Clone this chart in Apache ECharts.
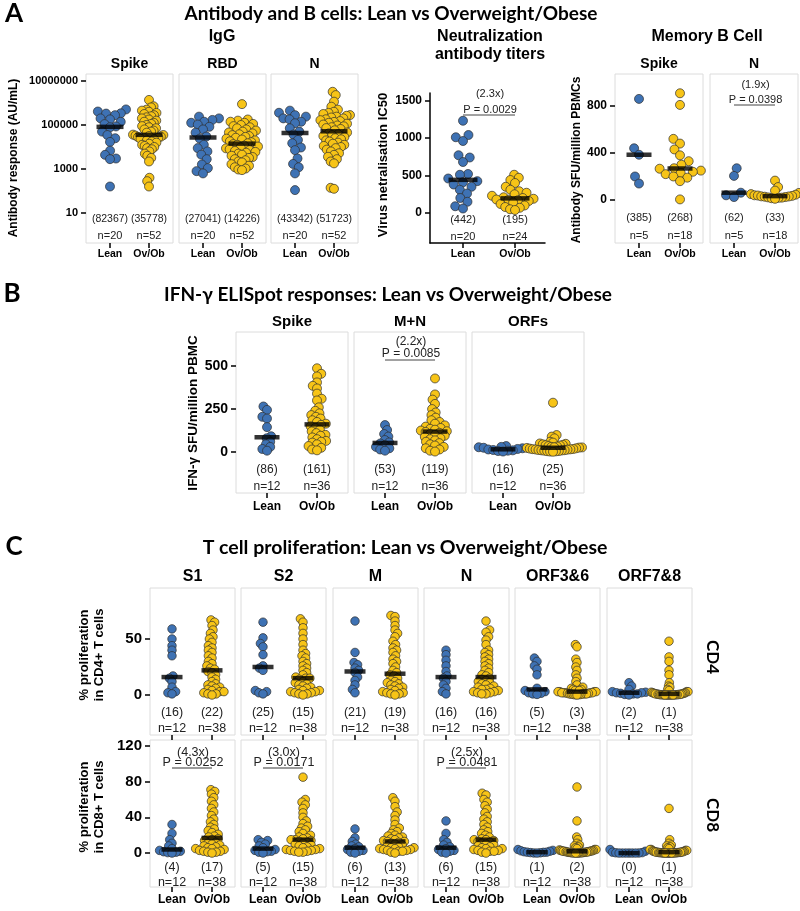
<!DOCTYPE html>
<html>
<head>
<meta charset="utf-8">
<script src="https://cdn.jsdelivr.net/npm/echarts@6/dist/echarts.min.js"></script>
<style>
  html, body { margin: 0; background: #fff; }
  #chart { width: 800px; height: 911px; }
</style>
</head>
<body>
<div id="chart"></div>
<script>
// ---------- data ----------
const groupNames = ['Lean', 'Ov/Ob'];

// A: IgG, AU/mL
const iggFacets = ['Spike', 'RBD', 'N'];
const iggTicks = [10, 1000, 100000, 10000000];
const iggSpikeLean = [510000, 410000, 340000, 330000, 280000, 200000, 180000, 140000, 110000, 86000, 79000, 50000, 35000, 25000, 17000, 6800, 4400, 3000, 2800, 160];
const iggSpikeOv = [1380000, 710000, 630000, 500000, 450000, 400000, 355000, 316000, 280000, 250000, 224000, 200000, 178000, 158000, 141000, 126000, 112000, 100000, 89000, 79000, 71000, 63000, 56000, 50000, 45000, 36500, 35000, 33000, 31600, 29500, 28200, 26300, 25100, 23400, 22400, 20000, 17800, 15800, 14100, 12600, 11200, 10000, 8900, 7900, 6300, 5000, 4000, 3200, 2200, 400, 280, 160];
const iggRbdLean = [240000, 200000, 170000, 141000, 126000, 105000, 83000, 63000, 45000, 30000, 24000, 12600, 8900, 6300, 4500, 2800, 1600, 1100, 800, 630];
const iggRbdOv = [890000, 178000, 158000, 141000, 126000, 112000, 100000, 89000, 79000, 71000, 63000, 56000, 50000, 45700, 41700, 38000, 34700, 31600, 28800, 26300, 24000, 21900, 20000, 18200, 16600, 14800, 13500, 12600, 11500, 10500, 9500, 8700, 7900, 7200, 6600, 6000, 5500, 5000, 4500, 4000, 3500, 3200, 2800, 2500, 2200, 2000, 1660, 1410, 1200, 1050, 950, 890];
const iggNLean = [450000, 360000, 280000, 240000, 200000, 180000, 141000, 120000, 71000, 50000, 37000, 21000, 14800, 9500, 7200, 3000, 1700, 1200, 630, 110];
const iggNOv = [3240000, 2290000, 1150000, 680000, 500000, 400000, 355000, 316000, 282000, 263000, 240000, 219000, 200000, 182000, 166000, 151000, 138000, 126000, 115000, 105000, 95500, 87000, 79400, 72400, 66000, 57500, 45700, 41700, 38000, 34700, 31600, 28200, 25100, 22400, 20000, 17800, 15800, 14100, 12600, 11200, 10000, 8900, 7600, 6300, 5200, 4400, 3600, 2800, 2200, 1800, 140, 126];
const iggMedians = [[82367, 35778], [27041, 14226], [43342, 51723]];

// A: neutralisation IC50
const neutTicks = [0, 500, 1000, 1500];
const neutLean = [1230, 1040, 1010, 960, 770, 740, 680, 520, 510, 460, 425, 410, 380, 350, 310, 260, 200, 150, 90, 60];
const neutOv = [510, 470, 440, 400, 350, 310, 290, 270, 250, 230, 210, 200, 190, 180, 175, 170, 160, 140, 120, 100, 80, 70, 50, 40];
const neutMedians = [442, 195];

// A: memory B cells
const memFacets = ['Spike', 'N'];
const memTicks = [0, 400, 800];
const memSpikeLean = [860, 440, 385, 200, 140];
const memSpikeOv = [908, 809, 520, 480, 430, 380, 330, 300, 270, 266, 250, 240, 230, 220, 200, 190, 160, 5];
const memNLean = [270, 205, 62, 40, 25];
const memNOv = [165, 110, 80, 60, 50, 45, 40, 38, 35, 31, 30, 28, 25, 22, 20, 18, 15, 10];
const memMedians = [[385, 268], [62, 33]];

// B: IFN-g ELISpot
const ifnFacets = ['Spike', 'M+N', 'ORFs'];
const ifnTicks = [0, 250, 500];
const ifnSpikeLean = [265, 245, 205, 195, 145, 92, 80, 60, 45, 30, 18, 8];
const ifnSpikeOv = [487, 455, 440, 405, 385, 370, 340, 310, 300, 260, 240, 225, 215, 205, 195, 185, 175, 165, 158, 150, 140, 130, 120, 110, 100, 95, 85, 75, 65, 60, 55, 45, 35, 25, 15, 10];
const ifnMNLean = [157, 128, 105, 90, 70, 56, 50, 40, 30, 22, 15, 8];
const ifnMNOv = [428, 335, 305, 280, 250, 230, 215, 200, 185, 175, 165, 155, 148, 140, 135, 130, 125, 121, 117, 112, 105, 100, 95, 88, 80, 75, 68, 60, 52, 45, 38, 30, 22, 15, 8, 3];
const ifnOrfLean = [35, 30, 28, 25, 22, 18, 15, 12, 10, 8, 6, 3];
const ifnOrfOv = [287, 99, 90, 80, 60, 55, 50, 48, 45, 42, 40, 38, 35, 32, 30, 28, 27, 26, 24, 22, 20, 18, 17, 16, 15, 14, 12, 11, 10, 9, 8, 6, 5, 4, 3, 2];
const ifnMedians = [[86, 161], [53, 119], [16, 25]];

// C: T cell proliferation (%)
const tcellFacets = ['S1', 'S2', 'M', 'N', 'ORF3&6', 'ORF7&8'];
const cd4Ticks = [0, 50];
const cd8Ticks = [0, 40, 80, 120];
const cd4S1Lean = [59, 50, 44, 40, 35, 17, 15, 12, 7, 3, 2, 1];
const cd4S1Ov = [67, 65, 62, 58, 55, 52, 50, 47, 44, 42, 40, 38, 35, 33, 30, 28, 26, 24, 23, 21, 20, 18, 16, 14, 12, 10, 9, 8, 7, 6, 5, 4, 3, 3, 2, 1, 1, 0];
const cd4S2Lean = [65, 51, 46, 43, 36, 26, 24, 22, 4, 3, 2, 1];
const cd4S2Ov = [68, 65, 60, 55, 50, 45, 40, 37, 35, 33, 30, 28, 26, 24, 22, 20, 18, 16, 15, 15, 14, 12, 11, 10, 9, 8, 7, 6, 5, 4, 4, 3, 3, 2, 2, 1, 1, 0];
const cd4MLean = [66, 38, 29, 27, 24, 22, 20, 16, 13, 9, 5, 2];
const cd4MOv = [71, 70, 66, 62, 58, 55, 52, 48, 45, 42, 40, 38, 35, 32, 30, 28, 25, 22, 20, 18, 17, 15, 13, 12, 11, 10, 9, 8, 7, 6, 5, 4, 3, 2, 2, 1, 1, 0];
const cd4NLean = [40, 36, 31, 26, 21, 17, 15, 12, 9, 6, 3, 1];
const cd4NOv = [66, 58, 56, 52, 49, 45, 40, 38, 36, 34, 32, 30, 28, 26, 24, 22, 20, 18, 17, 15, 14, 13, 12, 11, 10, 9, 8, 7, 6, 5, 5, 4, 3, 3, 2, 2, 1, 1];
const cd4Orf36Lean = [33, 30, 26, 23, 18, 6, 4, 3, 2, 1.5, 1, 0.5];
const cd4Orf36Ov = [45, 43, 32, 29, 25, 22, 18, 15, 12, 9, 7, 6, 5, 5, 4, 4, 4, 3, 3, 3, 3, 2, 2, 2, 2, 2, 1.5, 1.5, 1, 1, 1, 1, 0.8, 0.5, 0.5, 0.3, 0.2, 0];
const cd4Orf78Lean = [11, 8, 5, 3, 2.5, 2, 2, 1.5, 1, 1, 0.5, 0];
const cd4Orf78Ov = [48, 34, 30, 22, 18, 11, 8, 7, 5, 4, 3, 3, 2.5, 2, 2, 1.5, 1.5, 1.2, 1, 1, 0.8, 0.6, 0.5, 0.5, 0.4, 0.3, 0.3, 0.2, 0.2, 0.1, 0.1, 0, 0, 0, 0, 0, 0, 0];
const cd8S1Lean = [32, 22, 15, 11, 8, 5, 3, 2, 1.5, 1, 0.5, 0];
const cd8S1Ov = [71, 69, 66, 62, 58, 54, 50, 46, 42, 38, 35, 32, 29, 27, 25, 23, 21, 19, 18, 16, 15, 14, 12, 11, 10, 9, 8, 7, 6, 5, 5, 4, 3, 2, 2, 1, 1, 0];
const cd8S2Lean = [15, 14, 12, 10, 8, 6, 4, 3, 2, 1.5, 1, 0];
const cd8S2Ov = [85, 60, 57, 54, 50, 45, 40, 36, 33, 30, 28, 26, 24, 22, 20, 18, 17, 16, 15, 15, 14, 13, 12, 11, 10, 9, 8, 7, 6, 5, 4, 4, 3, 3, 2, 2, 1, 1];
const cd8MLean = [27, 17, 13, 10, 8, 7, 5, 4, 3, 2, 1, 0];
const cd8MOv = [62, 58, 52, 46, 42, 37, 32, 28, 26, 24, 22, 20, 19, 18, 17, 16, 15, 14, 13, 13, 12, 11, 10, 9, 8, 7, 6, 6, 5, 5, 4, 4, 3, 3, 2, 2, 1, 0];
const cd8NLean = [36, 22, 15, 12, 9, 7, 5, 4, 3, 2, 1, 0];
const cd8NOv = [67, 65, 60, 57, 53, 49, 45, 41, 38, 35, 32, 29, 26, 24, 22, 20, 18, 16, 15, 15, 14, 13, 12, 11, 10, 9, 8, 7, 6, 5, 5, 4, 3, 3, 2, 2, 1, 0];
const cd8Orf36Lean = [4, 3, 2.5, 2, 1.5, 1, 1, 0.8, 0.5, 0.3, 0.1, 0];
const cd8Orf36Ov = [74, 36, 18, 15, 11, 9, 8, 7, 6, 5, 4, 4, 3.5, 3, 3, 2.5, 2.5, 2.2, 2, 2, 1.8, 1.5, 1.5, 1.2, 1, 1, 0.8, 0.7, 0.6, 0.5, 0.4, 0.3, 0.3, 0.2, 0.1, 0.1, 0, 0];
const cd8Orf78Lean = [4, 2, 1, 0.5, 0.3, 0.1, 0, 0, 0, 0, 0, 0];
const cd8Orf78Ov = [50, 15, 11, 9, 8, 7, 6, 5, 4, 4, 3, 3, 2.5, 2, 2, 1.5, 1.5, 1.2, 1, 1, 0.8, 0.8, 0.6, 0.5, 0.5, 0.4, 0.3, 0.3, 0.2, 0.2, 0.1, 0.1, 0, 0, 0, 0, 0, 0];
const cd4Medians = [[16, 22], [25, 15], [21, 19], [16, 16], [5, 3], [2, 1]];
const cd8Medians = [[4, 17], [5, 15], [6, 13], [6, 15], [1, 2], [0, 1]];

// fold change / p value annotations
const statFolds = ['2.3x', '1.9x', '2.2x', '4.3x', '3.0x', '2.5x'];
const statPs = ['0.0029', '0.0398', '0.0085', '0.0252', '0.0171', '0.0481'];

// ---------- layout ----------
const SANS = "'Liberation Sans', Arial, sans-serif";
const HEAD = "Lato, 'Open Sans', sans-serif";
const LEAN_COLOR = '#3e72b4';
const OV_COLOR = '#f7c417';

const facets = [];
const graphics = [];

function text(x, y, str, size, o) {
  o = o || {};
  graphics.push({
    type: 'text', x: x, y: y, rotation: o.rot || 0, silent: true,
    style: {
      text: str, fill: o.color || '#000', fontSize: size,
      fontWeight: o.bold ? 'bold' : 'normal', fontFamily: o.family || SANS,
      align: 'center', verticalAlign: 'middle', lineHeight: o.lh
    }
  });
}

function facet(o) { facets.push(o); return o; }

// beeswarm: offsets points sideways so they don't overlap,
// then squeezes the group if it gets wider than maxW
function swarm(vals, toPx, d, maxW) {
  const pts = vals.map(v => ({ v: v, y: toPx(v), x: 0 }));
  const order = pts.slice().sort((a, b) => b.y - a.y);
  const done = [];
  let flip = false;
  order.forEach(p => {
    const bad = [];
    done.forEach(q => {
      const dy = Math.abs(p.y - q.y);
      if (dy < d) {
        const dx = Math.sqrt(d * d - dy * dy);
        bad.push([q.x - dx, q.x + dx]);
      }
    });
    const cands = [0];
    bad.forEach(b => cands.push(b[0], b[1]));
    cands.sort((a, b) => (Math.abs(a) - Math.abs(b)) || (flip ? a - b : b - a));
    p.x = cands.find(c => bad.every(b => c <= b[0] + 1e-6 || c >= b[1] - 1e-6));
    flip = !flip;
    done.push(p);
  });
  const m = Math.max.apply(null, pts.map(p => Math.abs(p.x)));
  if (m > maxW) pts.forEach(p => { p.x *= maxW / m; });
  return pts;
}

function yPix(f, v) {
  const t = f.log ? Math.log10 : (x => x);
  return f.top + f.height * (t(f.yMax) - t(v)) / (t(f.yMax) - t(f.yMin));
}

// Panel A - IgG
const iggSets = [[iggSpikeLean, iggSpikeOv], [iggRbdLean, iggRbdOv], [iggNLean, iggNOv]];
iggSets.forEach((vals, i) => facet({
  left: [86, 179, 271][i], top: 74, width: 87, height: 169,
  log: true, yMin: 0.433, yMax: 2.08e7, ticks: i ? null : iggTicks, tickFont: 11,
  vals: vals, med: iggMedians[i], offs: [24, 63], size: 9, barW: 27, gap: 0.85, spread: 16,
  medY: 219, nY: 236, medFont: 10.5, nFont: 11, xFont: 10.5, xMargin: 6,
  boxed: true, xLabels: true, label: iggFacets[i], labelY: 64, labelFont: 14
}));

// Panel A - neutralisation
const neutFacet = facet({
  left: 430, top: 93, width: 115, height: 150,
  yMin: -400, yMax: 1600, ticks: neutTicks, tickFont: 12,
  vals: [neutLean, neutOv], med: neutMedians, offs: [33, 85], size: 9, barW: 29, gap: 0.9, spread: 23,
  medY: 220, nY: 237, medFont: 11, nFont: 11, xFont: 10.5, xMargin: 6,
  lines: true, xLabels: true
});

// Panel A - memory B
const memSets = [[memSpikeLean, memSpikeOv], [memNLean, memNOv]];
const memF = memSets.map((vals, i) => facet({
  left: [615, 710][i], top: 74, width: 88, height: 169,
  yMin: -366, yMax: 1072, ticks: i ? null : memTicks, tickFont: 12,
  vals: vals, med: memMedians[i], offs: [24, 65], size: 9, barW: 25, gap: 0.9, spread: 24,
  medY: 218, nY: 236, medFont: 11, nFont: 11, xFont: 10.5, xMargin: 6,
  boxed: true, xLabels: true, label: memFacets[i], labelY: 64, labelFont: 14
}));

// Panel B
const ifnSets = [[ifnSpikeLean, ifnSpikeOv], [ifnMNLean, ifnMNOv], [ifnOrfLean, ifnOrfOv]];
const ifnF = ifnSets.map((vals, i) => facet({
  left: [236, 354, 472][i], top: 332, width: 112, height: 161,
  yMin: -238, yMax: 698, ticks: i ? null : ifnTicks, tickFont: 14,
  vals: vals, med: ifnMedians[i], offs: [31, 81], size: 9, barW: 25, gap: 0.55, spread: 29,
  medY: 470, nY: 487, medFont: 12, nFont: 12, xFont: 12, xMargin: 8,
  boxed: true, xLabels: true, label: ifnFacets[i], labelY: 322, labelFont: 15
}));

// Panel C
const tLefts = [150, 241, 333, 424, 515, 607];
const cd4Sets = [[cd4S1Lean, cd4S1Ov], [cd4S2Lean, cd4S2Ov], [cd4MLean, cd4MOv], [cd4NLean, cd4NOv], [cd4Orf36Lean, cd4Orf36Ov], [cd4Orf78Lean, cd4Orf78Ov]];
const cd8Sets = [[cd8S1Lean, cd8S1Ov], [cd8S2Lean, cd8S2Ov], [cd8MLean, cd8MOv], [cd8NLean, cd8NOv], [cd8Orf36Lean, cd8Orf36Ov], [cd8Orf78Lean, cd8Orf78Ov]];
cd4Sets.forEach((vals, i) => facet({
  left: tLefts[i], top: 588, width: 85, height: 147,
  yMin: -35.7, yMax: 95.5, ticks: i ? null : cd4Ticks, tickFont: 15,
  vals: vals, med: cd4Medians[i], offs: [22, 62], size: 8.5, barW: 21, gap: 0.5, spread: 19,
  medY: 713, nY: 729, medFont: 12.5, nFont: 12.5, xFont: 12, xMargin: 7,
  boxed: true, xLabels: false, label: tcellFacets[i], labelY: 577, labelFont: 16
}));
const cd8F = cd8Sets.map((vals, i) => facet({
  left: tLefts[i], top: 740, width: 85, height: 147,
  yMin: -38, yMax: 126.6, ticks: i ? null : cd8Ticks, tickFont: 15,
  vals: vals, med: cd8Medians[i], offs: [22, 62], size: 8.5, barW: 21, gap: 0.5, spread: 19,
  medY: 868, nY: 883, medFont: 12.5, nFont: 12.5, xFont: 12, xMargin: 7,
  boxed: true, xLabels: true
}));

// ---------- build option ----------
const grid = [], xAxis = [], yAxis = [], series = [];
facets.forEach((f, i) => {
  grid.push({
    left: f.left, top: f.top, width: f.width, height: f.height,
    show: !!f.boxed, borderColor: '#dcdcdc', borderWidth: 1, outerBoundsMode: 'none'
  });
  xAxis.push({
    gridIndex: i, type: 'value', min: 0, max: f.width,
    axisLine: { show: !!f.lines, onZero: false, lineStyle: { color: '#000', width: 1.5 } },
    axisTick: { show: true, customValues: f.offs, length: 5, lineStyle: { color: '#000', width: 1.5 } },
    axisLabel: {
      show: f.xLabels, customValues: f.offs, margin: f.xMargin,
      formatter: v => (v < f.width / 2 ? groupNames[0] : groupNames[1]),
      fontFamily: SANS, fontWeight: 'bold', fontSize: f.xFont, color: '#000'
    },
    splitLine: { show: false }
  });
  yAxis.push({
    gridIndex: i, type: f.log ? 'log' : 'value', logBase: 10, min: f.yMin, max: f.yMax,
    axisLine: { show: !!f.lines, onZero: false, lineStyle: { color: '#000', width: 1.5 } },
    axisTick: { show: !!f.ticks, customValues: f.ticks || [], length: 5, lineStyle: { color: '#000', width: 1.5 } },
    axisLabel: {
      show: !!f.ticks, customValues: f.ticks || [], margin: 8,
      formatter: v => String(Math.round(v)),
      fontFamily: SANS, fontWeight: 'bold', fontSize: f.tickFont, color: '#000'
    },
    splitLine: { show: false }
  });

  f.vals.forEach((vals, g) => {
    const pts = swarm(vals, v => yPix(f, v), f.size * f.gap, f.spread);
    series.push({
      type: 'scatter', xAxisIndex: i, yAxisIndex: i, silent: true, clip: false, z: 2,
      symbolSize: f.size,
      itemStyle: { color: g ? OV_COLOR : LEAN_COLOR, borderColor: '#2e2e2e', borderWidth: 0.7, opacity: 1 },
      data: pts.map(p => [f.offs[g] + p.x, p.v])
    });
    text(f.left + f.offs[g], f.medY, '(' + f.med[g] + ')', f.medFont, { color: '#222' });
    text(f.left + f.offs[g], f.nY, 'n=' + vals.length, f.nFont, { color: '#222' });
  });
  series.push({
    type: 'scatter', xAxisIndex: i, yAxisIndex: i, silent: true, clip: false, z: 3,
    symbol: 'rect', symbolSize: [f.barW, 4.5], itemStyle: { color: '#000' },
    data: f.med.map((m, g) => [f.offs[g], m])
  });
  if (f.label) text(f.left + f.width / 2, f.labelY, f.label, f.labelFont, { bold: true });
});

// stats annotations
const statTargets = [
  [neutFacet, 94, 110, 115, 11, '#444', 1],
  [memF[1], 85, 100, 105, 11, '#444', 1],
  [ifnF[1], 342, 354, 360, 12, '#444', 1],
  [cd8F[0], 753, 763, 768, 12.5, '#9a9a9a', 2],
  [cd8F[1], 753, 763, 768, 12.5, '#9a9a9a', 2],
  [cd8F[3], 753, 763, 768, 12.5, '#9a9a9a', 2]
];
statTargets.forEach((s, k) => {
  const f = s[0];
  const x0 = f.left + f.offs[0], x1 = f.left + f.offs[1];
  const cx = (x0 + x1) / 2 + 1;
  text(cx, s[1], '(' + statFolds[k] + ')', s[4], { color: '#222' });
  text(cx, s[2], 'P = ' + statPs[k], s[4], { color: '#222' });
  graphics.push({ type: 'line', silent: true, shape: { x1: x0, y1: s[3], x2: x1, y2: s[3] }, style: { stroke: s[5], lineWidth: s[6] } });
});

// headings
text(14, 14, 'A', 26, { bold: true, family: HEAD });
text(12, 294, 'B', 26, { bold: true, family: HEAD });
text(14, 547, 'C', 26, { bold: true, family: HEAD });
text(391, 14, 'Antibody and B cells: Lean vs Overweight/Obese', 19, { bold: true, family: HEAD });
text(388, 295, 'IFN-γ ELISpot responses: Lean vs Overweight/Obese', 19, { bold: true, family: HEAD });
text(405, 548, 'T cell proliferation: Lean vs Overweight/Obese', 19.5, { bold: true, family: HEAD });
text(222, 37, 'IgG', 16, { bold: true });
text(490, 37, 'Neutralization', 16, { bold: true });
text(490, 55, 'antibody titers', 16, { bold: true });
text(707, 37, 'Memory B Cell', 16, { bold: true });

// axis titles
const ROT = Math.PI / 2;
text(14, 158, 'Antibody response (AU/mL)', 12, { bold: true, rot: ROT });
text(383, 165, 'Virus netralisation IC50', 13, { bold: true, rot: ROT });
text(577, 160, 'Antibody SFU/million PBMCs', 12, { bold: true, rot: ROT });
text(193, 413, 'IFN-γ SFU/million PBMC', 13.5, { bold: true, rot: ROT });
text(92, 655, '% proliferation\nin CD4+ T cells', 13, { bold: true, rot: ROT, lh: 15 });
text(92, 807, '% proliferation\nin CD8+ T cells', 13, { bold: true, rot: ROT, lh: 15 });
text(712, 657, 'CD4', 17, { bold: true, rot: -ROT, family: HEAD });
text(712, 815, 'CD8', 17, { bold: true, rot: -ROT, family: HEAD });

const chart = echarts.init(document.getElementById('chart'));
chart.setOption({
  animation: false,
  backgroundColor: '#fff',
  grid: grid,
  xAxis: xAxis,
  yAxis: yAxis,
  series: series,
  graphic: graphics
});
</script>
</body>
</html>
